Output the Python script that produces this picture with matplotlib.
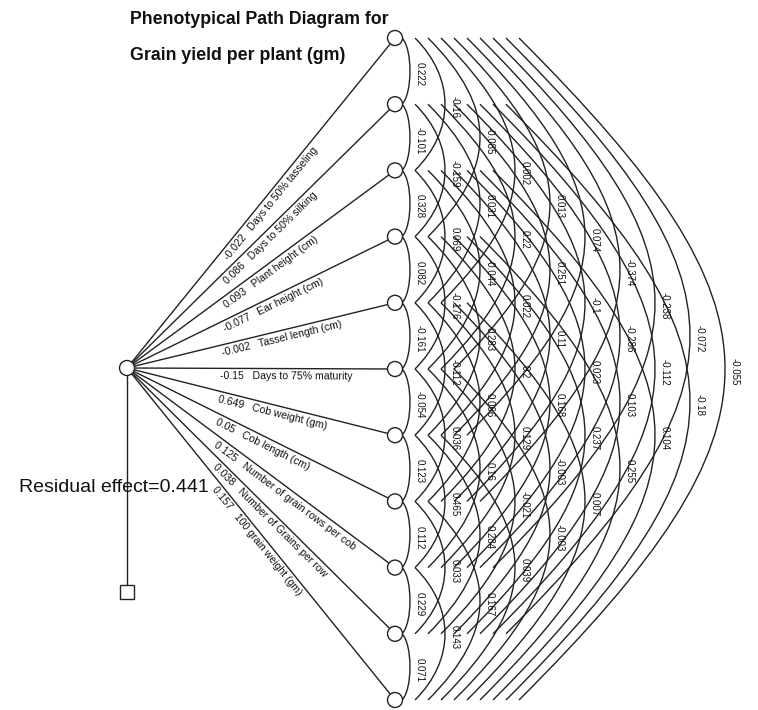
import numpy as np
import matplotlib.pyplot as plt
from matplotlib.path import Path
from matplotlib.patches import PathPatch, Circle, Rectangle

# traits and direct effects on grain yield
traits = ["Days to 50% tasseling", "Days to 50% silking", "Plant height (cm)",
          "Ear height (cm)", "Tassel length (cm)", "Days to 75% maturity",
          "Cob weight (gm)", "Cob length (cm)", "Number of grain rows per cob",
          "Number of Grains per row", "100 grain weight (gm)"]
direct = [-0.022, 0.086, 0.093, -0.077, -0.002, -0.15, 0.649, 0.05, 0.125, 0.038, 0.157]
residual = 0.441

# correlations between traits i and i+lag
r_lag1 = [0.222, -0.101, 0.328, 0.082, -0.161, -0.054, 0.123, 0.112, 0.229, 0.071]
r_lag2 = [-0.16, -0.159, 0.069, -0.176, -0.112, 0.036, 0.465, 0.033, 0.143]
r_lag3 = [-0.085, 0.031, -0.044, 0.283, 0.066, 0.16, 0.284, 0.167]
r_lag4 = [0.002, 0.22, 0.022, 0.2, 0.129, -0.021, 0.039]
r_lag5 = [0.013, 0.251, 0.11, 0.168, -0.003, -0.003]
r_lag6 = [0.074, -0.1, 0.023, 0.237, 0.007]
r_lag7 = [-0.374, -0.286, 0.103, 0.255]
r_lag8 = [-0.238, -0.112, 0.104]
r_lag9 = [-0.072, -0.18]
r_lag10 = [-0.055]
corr_lags = [r_lag1, r_lag2, r_lag3, r_lag4, r_lag5, r_lag6, r_lag7, r_lag8, r_lag9, r_lag10]

font = "Liberation Sans"

fig = plt.figure(figsize=(7.58, 7.10), dpi=100)
ax = fig.add_axes([0, 0, 1, 1])
ax.set_xlim(0, 758)
ax.set_ylim(710, 0)
ax.axis("off")

n = len(traits)
node_x = 395
node_y = np.linspace(38, 700, n)
sx, sy = 127, 368
rn = 7.5
ink = "#222222"

# paths from the source node to each trait
for i in range(n):
    ax.plot([sx, node_x], [sy, node_y[i]], color=ink, lw=1.0, zorder=1)
    dx, dy = node_x - sx, node_y[i] - sy
    L = np.hypot(dx, dy)
    ux, uy = dx / L, dy / L
    ang = np.degrees(np.arctan2(-dy, dx))
    t = (220 - sx) / dx
    px, py = sx + t * dx, sy + t * dy
    px, py = px - uy * 3, py + ux * 3
    ax.text(px, py, f"{direct[i]}   {traits[i]}", rotation=ang, rotation_mode="anchor",
            ha="left", va="top", fontsize=7.6, family=font, color="#111111")

# correlation arcs
for k, vals in enumerate(corr_lags, start=1):
    xs = 389 + 13 * k
    xa = 375 + 35 * k
    a = (xa - xs) / 0.75
    for i, v in enumerate(vals):
        j = i + k
        y0, y1 = node_y[i], node_y[j]
        verts = [(xs, y0), (xs + a, y0 + a), (xs + a, y1 - a), (xs, y1)]
        p = Path(verts, [Path.MOVETO, Path.CURVE4, Path.CURVE4, Path.CURVE4])
        ax.add_patch(PathPatch(p, fill=False, ec=ink, lw=1.0, zorder=1))
        ax.text(xa + 10, (y0 + y1) / 2 + 3, str(v), rotation=-90, ha="center", va="center",
                fontsize=7, family=font, color="#111111", zorder=2)

# nodes
for y in node_y:
    ax.add_patch(Circle((node_x, y), rn, fc="white", ec=ink, lw=1.0, zorder=3))
ax.add_patch(Circle((sx, sy), rn, fc="white", ec=ink, lw=1.0, zorder=3))

# residual
ax.plot([sx, sx], [sy + rn, 585], color=ink, lw=1.0, zorder=1)
ax.add_patch(Rectangle((sx - 7, 585), 14, 14, fc="white", ec=ink, lw=1.0, zorder=3))
ax.text(19, 488, f"Residual effect={residual}", fontsize=14, family=font,
        ha="left", va="center", color="#111111", zorder=4)

# title
ax.text(130, 20, "Phenotypical Path Diagram for", fontsize=12.8, fontweight="bold",
        family=font, ha="left", va="center", color="#111111")
ax.text(130, 55, "Grain yield per plant (gm)", fontsize=12.8, fontweight="bold",
        family=font, ha="left", va="center", color="#111111")

fig.savefig("out.png", dpi=100)
